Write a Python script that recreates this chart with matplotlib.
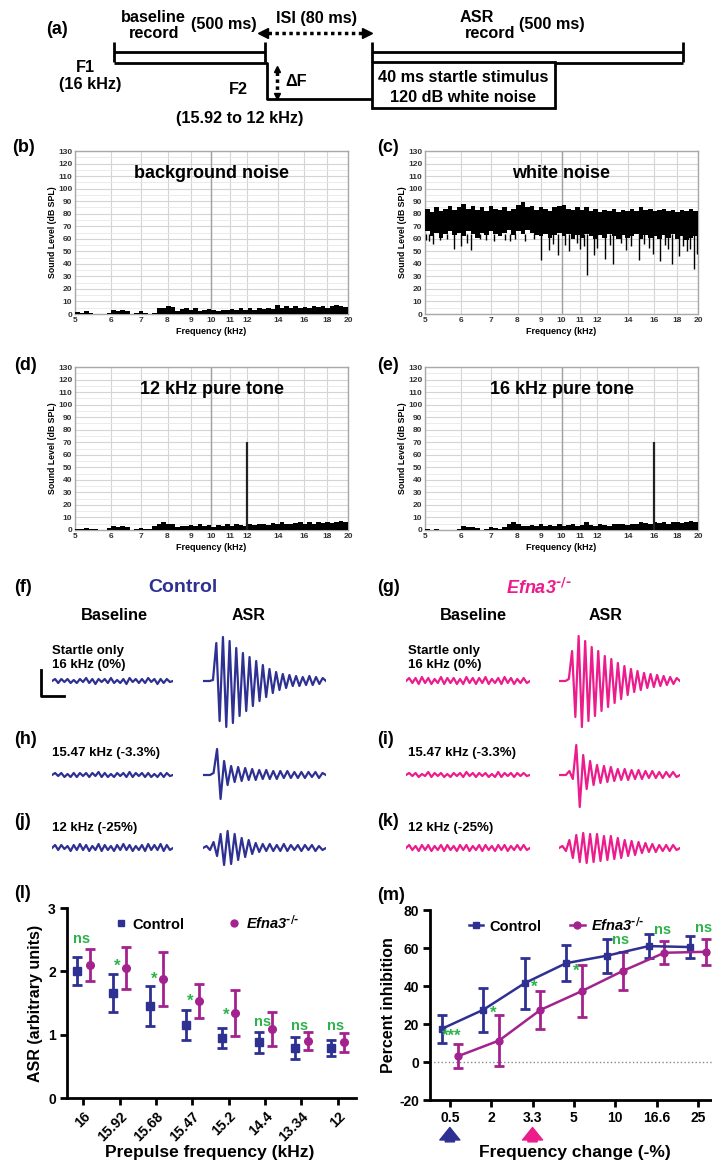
import numpy as np
import matplotlib
matplotlib.use('Agg')
import matplotlib.pyplot as plt
from matplotlib.lines import Line2D
from matplotlib.patches import Rectangle
from matplotlib.ticker import NullLocator

plt.rcParams['font.family'] = ['Liberation Sans', 'DejaVu Sans']
plt.rcParams['font.weight'] = 'bold'
plt.rcParams['axes.labelweight'] = 'bold'
plt.rcParams['mathtext.default'] = 'regular'
plt.rcParams['axes.unicode_minus'] = False

# ---- data ----
# spectra (dB SPL), 60 log-spaced bins between 5 and 20 kHz
bg_noise = [1.5, 0.5, 2.5, 1, 0, 0, 0, 1, 3, 2.5, 3.5, 2.5, 0, 0.5, 2, 1, 0, 0.5,
            4.5, 5, 6.5, 5.5, 2, 4, 5, 3.5, 4.5, 2.5, 3, 4, 3, 2.5, 3.5, 3, 4, 3,
            4.5, 3.5, 5, 3.5, 4.5, 4, 5, 4, 7.5, 5, 6, 4.5, 6, 5, 5.5, 4.5, 6, 5.5,
            6.5, 5, 6, 7, 6.5, 5.5]
tone12_floor = [1, 0.5, 1.5, 0.5, 0.5, 0, 0, 1.5, 3, 2.5, 3.5, 2, 0, 0.5, 1.5, 1, 0.5, 3,
                5, 6, 5, 4.5, 2.5, 3.5, 3, 4, 3, 4.5, 3, 4, 2.5, 4, 3.5, 4.5, 3.5, 5,
                4, 3.5, 5, 4, 4.5, 5, 4, 5.5, 5, 6, 5, 4.5, 5.5, 6, 5, 6, 5, 6.5,
                5.5, 6, 5.5, 6.5, 7.5, 6]
tone16_floor = [1, 0, 1, 0, 0, 0, 0, 0.5, 3, 2, 2.5, 1.5, 0, 0.5, 2, 1.5, 0.5, 2,
                5, 6.5, 5, 3, 3.5, 4, 3, 4.5, 3.5, 4, 3, 4.5, 3.5, 4, 5, 3.5, 4, 6.5,
                4, 3.5, 4.5, 4, 3.5, 5, 4.5, 5, 4, 5, 4.5, 6, 5.5, 4.5, 6, 5.5, 6, 5,
                6.5, 6, 5.5, 6.5, 7, 6.5]
tone_level = 70
# white noise, 60 log-spaced bins: top edge and solid lower edge
wn_upper = [84, 81, 85, 82, 84, 86, 83, 85, 88, 84, 86, 83, 85, 82, 86, 84, 83, 85,
            82, 84, 87, 89, 85, 86, 83, 85, 84, 82, 85, 86, 87, 84, 83, 85, 83, 85,
            82, 84, 81, 83, 82, 84, 81, 83, 82, 84, 82, 85, 83, 84, 82, 83, 84, 82,
            83, 81, 83, 82, 84, 82]
wn_lower = [66, 62, 65, 61, 64, 66, 63, 65, 62, 66, 64, 61, 65, 63, 66, 64, 62, 65,
            67, 63, 66, 64, 67, 65, 63, 62, 64, 61, 63, 65, 62, 64, 60, 63, 61, 64,
            62, 60, 63, 61, 64, 62, 60, 63, 61, 62, 64, 60, 63, 61, 62, 60, 63, 61,
            64, 60, 62, 59, 61, 62]
wn_dip_khz = [5.03, 5.1, 5.2, 5.4, 5.6, 5.8, 6.0, 6.2, 6.3, 6.6, 6.8, 7.1, 7.5, 7.7,
              7.9, 8.3, 8.7, 9.0, 9.4, 9.6, 9.8, 10.2, 10.4, 10.8, 11.0, 11.2, 11.4,
              11.8, 12.0, 12.5, 12.8, 13.0, 13.5, 13.9, 14.2, 14.8, 15.2, 15.6, 15.9,
              16.5, 16.9, 17.2, 17.5, 18.2, 18.5, 18.9, 19.2, 19.6, 19.9]
wn_dip_db = [59, 58, 56, 59, 60, 52, 54, 57, 51, 60, 59, 58, 59, 58, 60, 58, 60, 43,
             51, 56, 47, 55, 50, 57, 52, 54, 31, 47, 53, 44, 55, 40, 57, 51, 54, 43,
             56, 53, 48, 42, 55, 52, 40, 46, 54, 50, 52, 36, 48]

# ASR traces (relative amplitude, successive extrema)
ctl_base_0 = [0, 2, -2, 2, -1, 2, -2, 1, -2, 2, -1, 3, -2, 2, -3, 2, -1, 2, -2, 3,
              -2, 1, -2, 2, -3, 3, -1, 2, -2, 2, -2, 3, -1, 2, -3, 2, -2, 2, -1, 0]
ctl_asr_0 = [0, 0, 0, 1, 38, -40, 44, -46, 40, -42, 33, -35, 28, -30, 24, -25, 20, -20,
             16, -16, 12, -12, 9, -9, 7, -7, 6, -5, 5, -5, 4, -4, 5, -4, 4, -3, 3, 0]
ctl_base_h = [0, 2, -1, 2, -2, 1, -2, 2, -2, 2, -1, 2, -2, 2, -1, 3, -2, 2, -2, 1,
              -2, 2, -1, 2, -2, 3, -2, 2, -1, 2, -2, 2, -2, 1, -2, 2, -2, 2, -1, 0]
ctl_asr_h = [0, 0, 0, 2, 26, -24, 14, -10, 9, -7, 8, -6, 7, -5, 6, -5, 5, -4, 5, -4,
             4, -4, 4, -3, 4, -3, 3, -3, 3, -3, 3, -2, 3, -3, 2, 0]
ctl_base_j = [0, 3, -2, 3, -1, 2, -3, 3, -2, 4, -2, 3, -3, 2, -2, 4, -3, 3, -2, 2,
              -3, 3, -2, 4, -2, 3, -3, 2, -2, 3, -3, 4, -2, 3, -2, 4, -3, 3, -2, 0]
ctl_asr_j = [0, 2, -2, 6, -8, 14, -17, 17, -16, 14, -12, 10, -9, 8, -6, 5, -4, 4, -3, 4,
             -3, 3, -3, 4, -3, 3, -2, 3, -3, 3, -2, 3, -3, 2, -2, 0]
ko_base_0 = [0, 3, -2, 3, -3, 4, -2, 3, -3, 2, -2, 4, -3, 3, -2, 3, -3, 2, -3, 4,
             -2, 3, -3, 3, -2, 4, -3, 2, -2, 3, -3, 4, -2, 3, -3, 2, -2, 3, -2, 0]
ko_asr_0 = [0, 0, 0, 2, 30, -36, 45, -46, 40, -40, 34, -35, 30, -30, 25, -26, 22, -22,
            18, -18, 15, -14, 12, -11, 10, -9, 8, -7, 7, -6, 6, -5, 5, -4, 4, -3, 3, 0]
ko_base_i = [0, 2, -1, 2, -2, 1, -1, 3, -2, 2, -1, 2, -2, 1, -2, 2, -1, 2, -2, 3,
             -1, 2, -2, 2, -1, 2, -2, 1, -2, 3, -2, 2, -1, 2, -2, 2, -1, 2, -1, 0]
ko_asr_i = [0, 0, 0, 4, -4, 30, -32, 20, -14, 14, -10, 10, -8, 9, -7, 8, -6, 6, -5, 6,
            -5, 5, -4, 5, -4, 4, -3, 4, -3, 3, -3, 3, -2, 3, -2, 0]
ko_base_k = [0, 3, -2, 2, -3, 3, -2, 3, -3, 2, -2, 3, -3, 3, -2, 2, -3, 3, -2, 3,
             -3, 2, -2, 3, -3, 3, -2, 2, -3, 3, -2, 3, -3, 2, -2, 3, -2, 3, -2, 0]
ko_asr_k = [0, 2, -3, 8, -10, 13, -14, 15, -15, 14, -14, 14, -13, 12, -12, 12, -11, 10,
            -10, 8, -8, 7, -7, 6, -5, 5, -4, 4, -4, 3, -3, 3, -3, 3, -2, 0]
row_labels = ['Startle only\n16 kHz (0%)', '15.47 kHz (-3.3%)', '12 kHz (-25%)']

# (l) ASR vs prepulse frequency
prepulse_khz = ['16', '15.92', '15.68', '15.47', '15.2', '14.4', '13.34', '12']
asr_ctl = [2.00, 1.66, 1.45, 1.15, 0.95, 0.88, 0.79, 0.79]
asr_ctl_err = [0.22, 0.30, 0.32, 0.24, 0.16, 0.17, 0.17, 0.13]
asr_ko = [2.10, 2.05, 1.88, 1.53, 1.34, 1.09, 0.90, 0.88]
asr_ko_err = [0.26, 0.33, 0.43, 0.27, 0.36, 0.27, 0.14, 0.15]
asr_sig = ['ns', '*', '*', '*', '*', 'ns', 'ns', 'ns']
asr_sig_y = [2.51, 2.08, 1.88, 1.52, 1.30, 1.20, 1.14, 1.14]

# (m) percent inhibition vs frequency change
change_pct = ['0.5', '2', '3.3', '5', '10', '16.6', '25']
ppi_ctl = [17.5, 27.5, 41.5, 52, 56, 61, 60.5]
ppi_ctl_err = [7.5, 11.5, 13.5, 9.4, 9, 6.2, 6]
ppi_ko = [3, 11.3, 27.4, 37.3, 48, 57.5, 58]
ppi_ko_err = [6.3, 13.5, 10, 13.5, 10, 6, 7]
ppi_sig = ['***', '*', '*', '*', 'ns', 'ns', 'ns']
ppi_sig_y = [13.7, 25.8, 39.5, 48, 64, 69.5, 70.5]

BLUE = '#2E3192'
PINK = '#EC1C8C'
PURPLE = '#A3238E'
GREEN = '#2DB34A'
KO = 'Efna3$^{\\text{-/-}}$'

W, H = 712, 1165
fig = plt.figure(figsize=(W / 100, H / 100), dpi=100)


def rect(x0, y0, x1, y1):
    return [x0 / W, 1 - y1 / H, (x1 - x0) / W, (y1 - y0) / H]


def plabel(x, y, s):
    fig.text(x / W, 1 - y / H, s, fontsize=13, ha='left', va='center')


# ---- (a) schematic ----
ax = fig.add_axes(rect(0, 0, W, 140))
ax.set_xlim(0, W)
ax.set_ylim(140, 0)
ax.axis('off')
k = dict(color='black', lw=2, solid_capstyle='butt')
for x0, x1 in [(114, 265), (372, 683)]:
    ax.plot([x0, x1], [52, 52], **k)
    ax.plot([x0, x0], [42, 62], **k)
    ax.plot([x1, x1], [42, 62], **k)
ax.plot([268, 362], [33, 33], color='black', lw=2.5, ls=(0, (1, 1)))
ax.plot([263], [33], marker='<', color='black', ms=7)
ax.plot([367], [33], marker='>', color='black', ms=7)
ax.plot([114, 267, 267, 372], [63, 63, 99, 99], **k)
ax.add_patch(Rectangle((372, 62), 183, 46, fill=False, lw=2, ec='black'))
ax.plot([555, 683], [63, 63], **k)
ax.plot([277, 277], [72, 93], color='black', lw=2.5, ls=(0, (1, 1)))
ax.plot([277], [69], marker='^', color='black', ms=5)
ax.plot([277], [96], marker='v', color='black', ms=5)
t = dict(fontsize=11.7, ha='center', va='center')
ax.text(153, 17, 'baseline', **t)
ax.text(154, 34, 'record', **t)
ax.text(224, 25, '(500 ms)', **t)
ax.text(317, 18, 'ISI (80 ms)', **t)
ax.text(477, 17, 'ASR', **t)
ax.text(490, 34, 'record', **t)
ax.text(552, 25, '(500 ms)', **t)
ax.text(85, 68, 'F1', **t)
ax.text(90, 84, '(16 kHz)', **t)
ax.text(296, 81, '\u0394F', **t)
ax.text(238, 90, 'F2', **t)
ax.text(240, 118, '(15.92 to 12 kHz)', **t)
ax.text(463, 78, '40 ms startle stimulus', **t)
ax.text(463, 97, '120 dB white noise', **t)
plabel(46, 30, '(a)')

# ---- (b)-(e) spectra ----
spec_ticks = [5, 6, 7, 8, 9, 10, 11, 12, 14, 16, 18, 20]
edges60 = np.geomspace(5, 20, len(bg_noise) + 1)


def spectrum(r, title, tfrac):
    a = fig.add_axes(rect(*r))
    a.set_xscale('log')
    a.set_xlim(5, 20)
    a.set_ylim(0, 130)
    a.set_xticks(spec_ticks)
    a.set_xticklabels([str(s) for s in spec_ticks])
    a.xaxis.set_minor_locator(NullLocator())
    a.set_yticks(range(0, 131, 10))
    a.set_yticks(range(5, 130, 10), minor=True)
    a.grid(which='major', color='#d4d4d4', lw=0.8)
    a.grid(which='minor', axis='y', color='#e8e8e8', lw=0.6)
    a.axvline(10, color='#a0a0a0', lw=1, zorder=1)
    a.set_axisbelow(True)
    for s in a.spines.values():
        s.set_color('#a8a8a8')
        s.set_linewidth(1)
    a.tick_params(which='both', length=0, labelsize=6, pad=2, colors='#333333')
    a.set_xlabel('Frequency (kHz)', fontsize=6.5, labelpad=2)
    a.set_ylabel('Sound Level (dB SPL)', fontsize=6.3, labelpad=1)
    a.text(0.5, tfrac, title, transform=a.transAxes, ha='center', va='center',
           fontsize=13)
    return a


a = spectrum((75, 151, 348, 314), 'background noise', 0.865)
a.stairs(bg_noise, edges60, fill=True, color='black', zorder=3)
plabel(12, 147, '(b)')

a = spectrum((425, 151, 698, 314), 'white noise', 0.865)
a.stairs(wn_upper, edges60, baseline=wn_lower, fill=True, color='black', zorder=3)
a.vlines(wn_dip_khz, wn_dip_db, 64, color='black', lw=1, zorder=3)
plabel(377, 147, '(c)')

a = spectrum((75, 367, 348, 530), '12 kHz pure tone', 0.86)
a.stairs(tone12_floor, edges60, fill=True, color='black', zorder=3)
a.vlines([12], 0, tone_level, color='#222222', lw=1.6, zorder=3)
plabel(14, 365, '(d)')

a = spectrum((425, 367, 698, 530), '16 kHz pure tone', 0.86)
a.stairs(tone16_floor, edges60, fill=True, color='black', zorder=3)
a.vlines([16], 0, tone_level, color='#222222', lw=1.6, zorder=3)
plabel(377, 365, '(e)')

# ---- (f)-(k) ASR traces ----
plabel(14, 588, '(f)')
plabel(377, 588, '(g)')
fig.text(183 / W, 1 - 588 / H, 'Control', color=BLUE, fontsize=14,
         ha='center', va='center')
fig.text(539 / W, 1 - 588 / H, KO, color=PINK, fontsize=13, style='italic',
         ha='center', va='center')
for cx in [114, 473]:
    fig.text(cx / W, 1 - 615 / H, 'Baseline', fontsize=11.8, ha='center', va='center')
for cx in [249, 606]:
    fig.text(cx / W, 1 - 615 / H, 'ASR', fontsize=11.5, ha='center', va='center')

row_y = [681, 775, 848]
row_text_y = [658, 753, 828]
traces = [(ctl_base_0, ctl_asr_0, ko_base_0, ko_asr_0),
          (ctl_base_h, ctl_asr_h, ko_base_i, ko_asr_i),
          (ctl_base_j, ctl_asr_j, ko_base_k, ko_asr_k)]
for (cb, ca, kb, ka), yc, ty, lab in zip(traces, row_y, row_text_y, row_labels):
    for (x0, x1), tr, col in [((52, 173), cb, BLUE), ((203, 326), ca, BLUE),
                              ((406, 530), kb, PINK), ((559, 680), ka, PINK)]:
        t_ax = fig.add_axes(rect(x0, yc - 60, x1, yc + 60))
        t_ax.plot(range(len(tr)), tr, color=col, lw=1.6)
        t_ax.set_xlim(0, len(tr) - 1)
        t_ax.set_ylim(-60, 60)
        t_ax.axis('off')
        t_ax.patch.set_alpha(0)
    for x in [52, 408]:
        fig.text(x / W, 1 - ty / H, lab, fontsize=9.5, ha='left', va='center',
                 linespacing=1.3)
plabel(14, 740, '(h)')
plabel(377, 740, '(i)')
plabel(14, 822, '(j)')
plabel(377, 822, '(k)')
# scale bar
fig.add_artist(Line2D([41 / W, 41 / W, 64 / W], [1 - 670 / H, 1 - 696 / H, 1 - 696 / H],
                      color='black', lw=2))


def style_stats(a):
    for s in ['top', 'right']:
        a.spines[s].set_visible(False)
    for s in ['left', 'bottom']:
        a.spines[s].set_linewidth(2)
    a.tick_params(width=2, length=5, labelsize=10, pad=3)


# ---- (l) ----
plabel(14, 893, '(l)')
al = fig.add_axes(rect(67, 908, 356, 1098))
x = np.arange(len(prepulse_khz))
al.errorbar(x - 0.18, asr_ctl, yerr=asr_ctl_err, fmt='s', color=BLUE, ms=6,
            elinewidth=2, capsize=3.5, capthick=2)
al.errorbar(x + 0.18, asr_ko, yerr=asr_ko_err, fmt='o', color=PURPLE, ms=5.5,
            elinewidth=2, capsize=3.5, capthick=2)
for xi, s, yv in zip(x, asr_sig, asr_sig_y):
    al.text(xi - 0.06, yv, s, color=GREEN, fontsize=10.5 if s == 'ns' else 12,
            ha='center', va='center')
al.set_xlim(-0.45, 7.5)
al.set_ylim(0, 3)
al.set_yticks([0, 1, 2, 3])
al.set_xticks(x)
al.set_xticklabels(prepulse_khz, rotation=45, ha='right', rotation_mode='anchor')
style_stats(al)
al.set_ylabel('ASR (arbitrary units)', fontsize=11.5, labelpad=4)
fig.text(210 / W, 1 - 1152 / H, 'Prepulse frequency (kHz)', fontsize=12.5,
         ha='center', va='center')
h1 = Line2D([], [], ls='none', marker='s', color=BLUE, ms=5)
h2 = Line2D([], [], ls='none', marker='o', color=PURPLE, ms=5)
al.legend([h1, h2], ['Control', KO], ncol=2, frameon=False,
          loc='upper left', bbox_to_anchor=(0.12, 1.04), handlelength=0.8,
          handletextpad=0.4, columnspacing=3.0, prop=dict(weight='bold', size=10.5))
al.get_legend().get_texts()[1].set_style('italic')

# ---- (m) ----
plabel(377, 895, '(m)')
am = fig.add_axes(rect(430, 910, 712, 1100))
xm = np.arange(len(change_pct))
am.axhline(0, color='#888888', ls=':', lw=1)
am.errorbar(xm - 0.19, ppi_ctl, yerr=ppi_ctl_err, fmt='-s', color=BLUE, ms=5, lw=1.8,
            elinewidth=2, capsize=3.5, capthick=2)
am.errorbar(xm + 0.19, ppi_ko, yerr=ppi_ko_err, fmt='-o', color=PURPLE, ms=5, lw=1.8,
            elinewidth=2, capsize=3.5, capthick=2)
for xi, s, yv in zip(xm, ppi_sig, ppi_sig_y):
    off = 0.14 if s == 'ns' else 0.05
    am.text(xi + off, yv, s, color=GREEN, fontsize=10.5 if s == 'ns' else 12,
            ha='center', va='center')
am.set_xlim(-0.48, 6.34)
am.set_ylim(-20, 80)
am.set_yticks([-20, 0, 20, 40, 60, 80])
am.set_xticks(xm)
am.set_xticklabels(change_pct)
style_stats(am)
am.set_ylabel('Percent inhibition', fontsize=11.5, labelpad=2)
fig.text(575 / W, 1 - 1152 / H, 'Frequency change (-%)', fontsize=12.5,
         ha='center', va='center')
for xi, col in [(0, BLUE), (2, PINK)]:
    am.annotate('', xy=(xi, -0.13), xytext=(xi, -0.235),
                xycoords=('data', 'axes fraction'),
                arrowprops=dict(arrowstyle='simple,head_width=1.2,head_length=0.75,tail_width=0.55',
                                color=col, mutation_scale=12))
h1 = Line2D([], [], marker='s', color=BLUE, ms=5, lw=1.8)
h2 = Line2D([], [], marker='o', color=PURPLE, ms=5, lw=1.8)
am.legend([h1, h2], ['Control', KO], ncol=2, frameon=False,
          loc='upper left', bbox_to_anchor=(0.09, 1.04), handlelength=1.0,
          handletextpad=0.4, columnspacing=2.0, prop=dict(weight='bold', size=10.5))
am.get_legend().get_texts()[1].set_style('italic')

fig.savefig('out.png', dpi=100)
